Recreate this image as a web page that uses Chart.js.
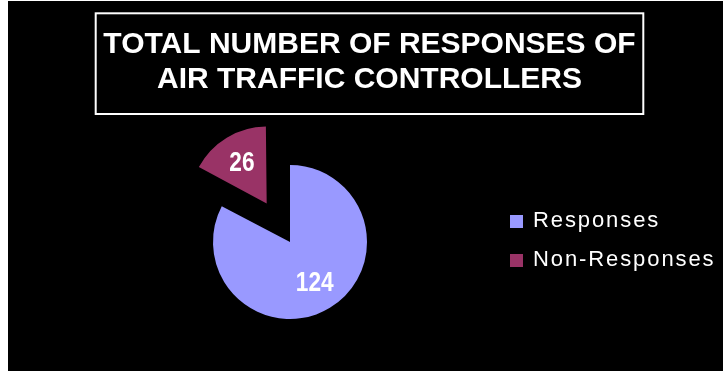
<!DOCTYPE html>
<html>
<head>
<meta charset="utf-8">
<script src="https://cdn.jsdelivr.net/npm/chart.js@4"></script>
<style>
  html, body { margin: 0; padding: 0; background: #fff; }
  #wrap { position: absolute; left: 8px; top: 1px; width: 715px; height: 370px; background: #000; }
</style>
</head>
<body>
<div id="wrap"><canvas id="myChart" width="715" height="370"></canvas></div>
<script>
const categories = ['Responses', 'Non-Responses'];
const counts = [124, 26];
const titleLines = ['TOTAL NUMBER OF RESPONSES OF', 'AIR TRAFFIC CONTROLLERS'];

// boxed two-line title at the top
const titleBox = {
  id: 'titleBox',
  afterDraw(chart) {
    const c = chart.ctx;
    c.save();
    c.strokeStyle = '#fff';
    c.lineWidth = 2;
    c.strokeRect(87.7, 12.3, 547.6, 100.7);
    c.fillStyle = '#fff';
    c.font = 'bold 30px "Liberation Sans", Arial, sans-serif';
    c.textAlign = 'center';
    c.textBaseline = 'alphabetic';
    c.fillText(titleLines[0], 361.5, 51.7);
    c.fillText(titleLines[1], 361.5, 87);
    c.restore();
  }
};

// legend on the right, square swatches + spaced text
const sideLegend = {
  id: 'sideLegend',
  afterDraw(chart) {
    const c = chart.ctx;
    const ds = chart.data.datasets[0];
    c.save();
    c.font = '22px "Liberation Sans", Arial, sans-serif';
    c.letterSpacing = '1.9px';
    c.textAlign = 'left';
    c.textBaseline = 'alphabetic';
    chart.data.labels.forEach((label, i) => {
      const base = 226 + i * 39;
      c.fillStyle = ds.backgroundColor[i];
      c.fillRect(502, base - 12, 13, 13);
      c.fillStyle = '#fff';
      c.fillText(label, 525, base);
    });
    c.restore();
  }
};

// exploded slices: keep the outer radius equal to the others
const keepRadius = {
  id: 'keepRadius',
  afterDatasetUpdate(chart, args) {
    args.meta.data.forEach(arc => {
      const shift = (arc.options.offset || 0) / 4;
      const fix = 1 - Math.sin(Math.min(Math.PI, arc.circumference));
      arc.outerRadius -= shift * fix;
    });
  }
};

// value labels inside each slice (narrow bold digits)
const valueLabels = {
  id: 'valueLabels',
  afterDatasetsDraw(chart) {
    const meta = chart.getDatasetMeta(0);
    const r = meta.controller.outerRadius;
    const c = chart.ctx;
    meta.data.forEach((arc, i) => {
      const mid = (arc.startAngle + arc.endAngle) / 2;
      const d = (arc.options.offset || 0) / 4 + 0.62 * r;
      c.save();
      c.translate(arc.x + Math.cos(mid) * d, arc.y + Math.sin(mid) * d);
      c.scale(0.84, 1);
      c.fillStyle = '#fff';
      c.font = 'bold 27px "Liberation Sans", Arial, sans-serif';
      c.textAlign = 'center';
      c.textBaseline = 'middle';
      c.fillText(String(counts[i]), 0, 1);
      c.restore();
    });
  }
};

const ctx = document.getElementById('myChart');
new Chart(ctx, {
  type: 'pie',
  data: {
    labels: categories,
    datasets: [{
      data: counts,
      backgroundColor: ['#9999FF', '#993366'],
      borderWidth: 0,
      offset: [0, 180],
      radius: 77
    }]
  },
  options: {
    responsive: false,
    animation: false,
    events: [],
    layout: { padding: { left: 100, right: 251, top: 120, bottom: 8 } },
    plugins: {
      legend: { display: false },
      title: { display: false },
      tooltip: { enabled: false }
    }
  },
  plugins: [keepRadius, titleBox, sideLegend, valueLabels]
});
</script>
</body>
</html>
